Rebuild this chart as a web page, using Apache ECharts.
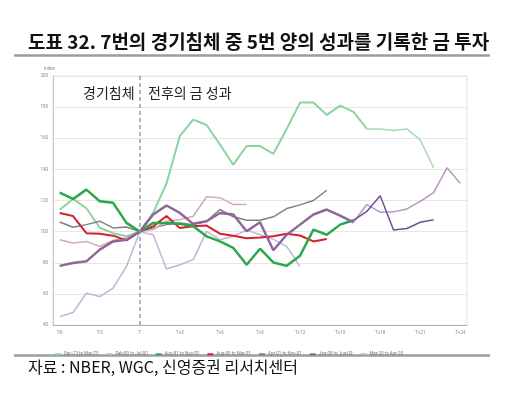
<!DOCTYPE html>
<html>
<head>
<meta charset="utf-8">
<script src="https://cdn.jsdelivr.net/npm/echarts@6/dist/echarts.min.js"></script>
<style>
  html, body { margin: 0; padding: 0; background: #fff; }
  #chart_1 { width: 531px; height: 399px; }
</style>
</head>
<body>
<div id="chart_1"></div>
<script>
var dom = document.getElementById("chart_1");
var myChart = echarts.init(dom);

// months around the start of each recession (T = start)
var months = ['T-6','T-5','T-4','T-3','T-2','T-1','T',
  'T+1','T+2','T+3','T+4','T+5','T+6','T+7','T+8','T+9','T+10','T+11','T+12',
  'T+13','T+14','T+15','T+16','T+17','T+18','T+19','T+20','T+21','T+22','T+23','T+24'];

var names = ['Dec-73 to Mar-75', 'Feb-80 to Jul-80', 'Aug-81 to Nov-82', 'Aug-90 to Mar-91',
  'Apr-01 to Nov-01', 'Jan-08 to Jun-09', 'Mar-20 to Apr-20'];

// gold price index, T = 100
var dec73 = [114, 121, 115, 102.5, 99, 97, 100,
  112, 131, 161.5, 172, 168.5, 156, 143, 155, 155, 150, 166, 183,
  183, 175, 181, 177, 166, null, null, null, null, null, null, null];
var dec73b = [null, null, null, null, null, null, null,
  null, null, null, null, null, null, null, null, null, null, null, null,
  null, null, null, null, 166, 166, 165, 166, 159, 141, null, null];
var feb80 = [45.4, 48, 60.4, 58.3, 63.7, 77.6, 100,
  98, 76, 78.7, 82, 100.2, 94.8, 97, 101, 98, 95, 90.5, 77.5,
  null, null, null, null, null, null, null, null, null, null, null, null];
var aug81 = [125, 121, 127, 119.5, 118.5, 105.6, 100,
  105.6, 105.6, 105, 103.4, 97, 93.7, 89.5, 78.7, 89, 80.2, 78, 84.5,
  101.3, 98, 104.5, 107.3, null, null, null, null, null, null, null, null];
var aug81b = [null, null, null, null, null, null, null,
  null, null, null, null, null, null, null, null, null, null, null, null,
  null, null, null, 107.3, 113, 123, 101, 102, 106, 107.7, null, null];
var aug90 = [112, 110, 99, 98.7, 97.4, 94.4, 100,
  103.4, 110, 102.4, 103.4, 103.9, 98.7, 97.4, 95.7, 96.3, 97, 98.7, 97.5,
  93.7, 95.3, null, null, null, null, null, null, null, null, null, null];
var apr01 = [106.2, 102.8, 104.5, 106.7, 102.4, 103, 100,
  102.4, 104.5, 105.6, 104.5, 106.7, 114.2, 109.5, 107.3, 107.3, 109.5, 114.8, 117.2,
  120, 126.6, null, null, null, null, null, null, null, null, null, null];
var jan08 = [78, 79.8, 80.9, 88.4, 93.7, 94.8, 100,
  111, 116.8, 112, 105, 106.7, 112, 111, 100.2, 106, 88, 98, 104.5,
  111, 114.2, 110.3, 106, null, null, null, null, null, null, null, null];
var jan08b = [null, null, null, null, null, null, null,
  null, null, null, null, null, null, null, null, null, null, null, null,
  null, null, null, 106, 117.4, 112.5, 112.7, 114.6, 119.5, 125, 141, 131];
var mar20 = [94.8, 92.7, 93.7, 90.5, 94.4, 95.9, 100,
  101.3, 106.7, 107.7, 109.9, 122.4, 121.8, 117.4, 117.4, null, null, null, null,
  null, null, null, null, null, null, null, null, null, null, null, null];

var yTicks = [40, 200, 20]; // min, max, interval

function line(name, data, color, width, z) {
    return {
        name: name,
        type: 'line',
        data: data,
        symbol: 'none',
        z: z,
        lineStyle: { color: color, width: width },
        itemStyle: { color: color }
    };
}

var series = [
    line(names[0], dec73, '#8dd2a0', 2, 2),
    line('dec73b', dec73b, '#a6dcb4', 1.5, 2),
    line(names[1], feb80, '#bcb6d6', 1.5, 2),
    line(names[2], aug81, '#2aa84a', 2.5, 4),
    line(names[3], aug90, '#d2202f', 2, 3),
    line(names[4], apr01, '#808080', 1.5, 2),
    line(names[5], jan08, '#8e6699', 2.5, 4),
    line('jan08b', jan08b, '#b896c0', 1.5, 3),
    line(names[6], mar20, '#d0aab9', 1.5, 2),
    line('aug81b', aug81b, '#6e5290', 1.5, 3)
];
// dashed line at T
series[0].markLine = {
    silent: true,
    symbol: 'none',
    label: { show: false },
    lineStyle: { color: '#9a9a9a', type: [4, 3], width: 1.5 },
    data: [{ xAxis: 'T' }]
};

option = {
    animation: false,
    textStyle: { fontFamily: 'Roboto, "Noto Sans CJK KR", sans-serif' },
    grid: {
        left: 53, right: 64, top: 76, bottom: 74,
        show: true, borderColor: '#e2e2e2', borderWidth: 1
    },
    legend: {
        data: names,
        left: 50,
        top: 347,
        itemWidth: 6,
        itemHeight: 2,
        itemGap: 8,
        icon: 'rect',
        textStyle: { fontSize: 4.5, color: '#777', padding: [0, 0, 0, -2] }
    },
    xAxis: {
        type: 'category',
        data: months,
        boundaryGap: true,
        axisLine: { lineStyle: { color: '#b5b5b5' } },
        axisTick: { interval: 0, alignWithLabel: true, length: 2, lineStyle: { color: '#b5b5b5' } },
        axisLabel: { interval: 2, fontSize: 4.5, color: '#888', margin: 6 }
    },
    yAxis: {
        type: 'value',
        min: yTicks[0],
        max: yTicks[1],
        interval: yTicks[2],
        axisLine: { show: true, lineStyle: { color: '#c8c8c8' } },
        axisTick: { show: false },
        axisLabel: { fontSize: 4.5, color: '#888', margin: 5 },
        splitLine: { lineStyle: { color: '#e6e6e6' } }
    },
    graphic: [
        { type: 'text', left: 28, top: 32, style: { text: '도표 32. 7번의 경기침체 중 5번 양의 성과를 기록한 금 투자', font: 'bold 19px "Noto Sans CJK KR"', fill: '#111' } },
        { type: 'line', shape: { x1: 14, y1: 55.5, x2: 490, y2: 55.5 }, style: { stroke: '#9c9c9c', lineWidth: 2.5 } },
        { type: 'text', left: 44, top: 66, style: { text: 'Index', font: '4.5px Roboto', fill: '#888' } },
        { type: 'text', left: 83, top: 86, style: { text: '경기침체', font: '14px "Noto Sans CJK KR"', fill: '#222' } },
        { type: 'text', left: 148, top: 86, style: { text: '전후의 금 성과', font: '14px "Noto Sans CJK KR"', fill: '#222' } },
        { type: 'line', shape: { x1: 14, y1: 355.5, x2: 490, y2: 355.5 }, style: { stroke: '#9c9c9c', lineWidth: 2.5 } },
        { type: 'text', left: 28, top: 359, style: { text: '자료 : NBER, WGC, 신영증권 리서치센터', font: '16px "Noto Sans CJK KR"', fill: '#111' } }
    ],
    series: series
};

if (option && typeof option === "object") {
    myChart.setOption(option, true);
}
</script>
</body>
</html>
